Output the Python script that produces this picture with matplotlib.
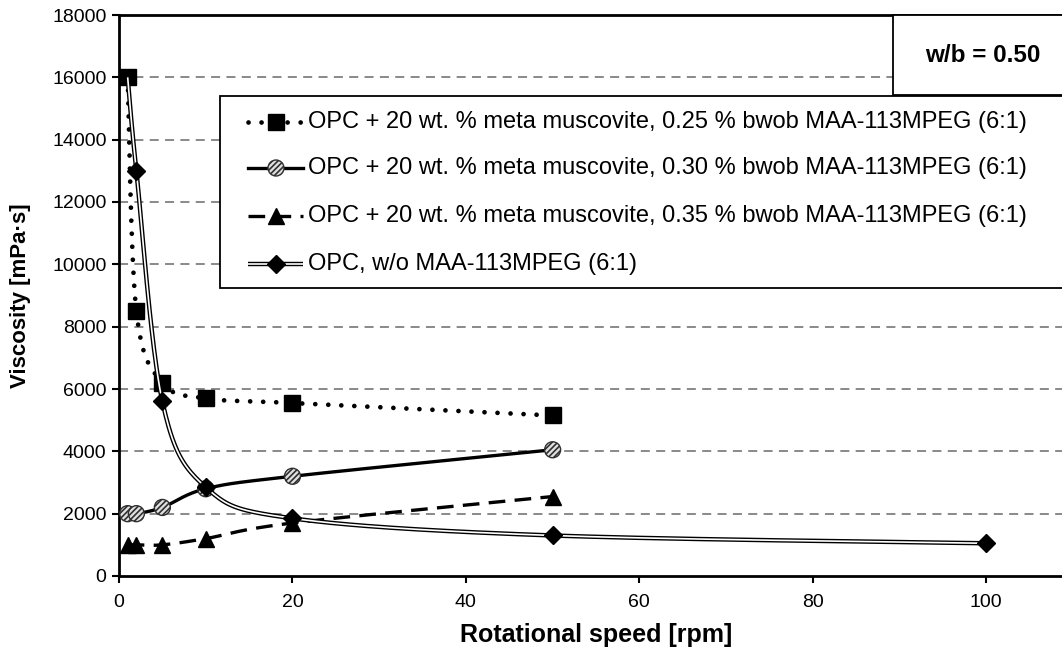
import numpy as np
import matplotlib
matplotlib.use("Agg")
import matplotlib.pyplot as plt
from matplotlib.lines import Line2D
from matplotlib.patches import Rectangle

plt.rcParams['font.family'] = ['Liberation Sans', 'DejaVu Sans']
plt.rcParams['hatch.linewidth'] = 1.2

# ---- data ----
x_a = [1, 2, 5, 10, 20, 50]
y_025 = [16000, 8500, 6200, 5700, 5550, 5150]
y_030 = [2000, 2000, 2200, 2800, 3200, 4050]
y_035 = [1000, 1000, 1000, 1200, 1700, 2550]
x_opc = [1, 2, 5, 10, 20, 50, 100]
y_opc = [16000, 13000, 5600, 2850, 1850, 1300, 1050]

labels = [
    "OPC + 20 wt. % meta muscovite, 0.25 % bwob MAA-113MPEG (6:1)",
    "OPC + 20 wt. % meta muscovite, 0.30 % bwob MAA-113MPEG (6:1)",
    "OPC + 20 wt. % meta muscovite, 0.35 % bwob MAA-113MPEG (6:1)",
    "OPC, w/o MAA-113MPEG (6:1)",
]
x_ticks = [0, 20, 40, 60, 80, 100]
y_ticks = list(range(0, 18001, 2000))
XMAX, YMAX = 110, 18000

# ---- styles ----
DOT = dict(color='black', lw=3.4, linestyle=(0, (0.01, 2.75)), dash_capstyle='round')
SOLID = dict(color='black', lw=2.4)
DASH = dict(color='black', lw=2.4, dashes=(5, 2.8))
OUTER = dict(color='black', lw=3.2, solid_capstyle='butt')
INNER = dict(color='white', lw=1.2, solid_capstyle='butt')
SQ = dict(ls='none', marker='s', ms=11, color='black')
TRI = dict(ls='none', marker='^', ms=11, color='black')
DIA = dict(ls='none', marker='D', ms=9.5, color='black')
CIRC = dict(s=11.5 ** 2, marker='o', facecolor='#e0e0e0', edgecolor='#303030',
            hatch='//////', linewidths=1.0)

W, H = 1062, 652
fig = plt.figure(figsize=(W / 100, H / 100), dpi=100)
ax_left, ax_right = 119, 1073
ax_top, ax_bot = 15, 576
ax = fig.add_axes([ax_left / W, 1 - ax_bot / H, (ax_right - ax_left) / W, (ax_bot - ax_top) / H])
ax.set_xlim(0, XMAX)
ax.set_ylim(0, YMAX)


def smooth(xs, ys, n=40):
    """Excel-style (uniform Catmull-Rom) smoothing in display space."""
    sx = (ax_right - ax_left) / XMAX
    sy = (ax_bot - ax_top) / YMAX
    P = np.column_stack([np.asarray(xs, float) * sx, np.asarray(ys, float) * sy])
    out = []
    for i in range(len(P) - 1):
        p0 = P[i - 1] if i > 0 else P[i]
        p1, p2 = P[i], P[i + 1]
        p3 = P[i + 2] if i + 2 < len(P) else P[i + 1]
        c1 = p1 + (p2 - p0) / 6
        c2 = p2 - (p3 - p1) / 6
        t = np.linspace(0, 1, n)[:, None]
        seg = ((1 - t) ** 3) * p1 + 3 * ((1 - t) ** 2) * t * c1 + 3 * (1 - t) * t ** 2 * c2 + t ** 3 * p2
        out.append(seg if i == 0 else seg[1:])
    Q = np.vstack(out)
    return Q[:, 0] / sx, Q[:, 1] / sy


# grid
for yv in y_ticks[1:-1]:
    ax.axhline(yv, color='#808080', lw=1.3, dashes=(5, 3.5), zorder=0)

# series 0.25 (dotted, squares)
sx_, sy_ = smooth(x_a, y_025)
ax.plot(sx_, sy_, zorder=2, **DOT)
ax.plot(x_a, y_025, zorder=3, **SQ)

# series 0.30 (solid, hatched circles)
sx_, sy_ = smooth(x_a, y_030)
ax.plot(sx_, sy_, zorder=2, **SOLID)
ax.scatter(x_a, y_030, zorder=3, **CIRC)

# series 0.35 (dashed, triangles)
sx_, sy_ = smooth(x_a, y_035)
ax.plot(sx_, sy_, zorder=2, **DASH)
ax.plot(x_a, y_035, zorder=3, **TRI)

# series OPC (double line, diamonds)
sx_, sy_ = smooth(x_opc, y_opc)
ax.plot(sx_, sy_, zorder=4, **OUTER)
ax.plot(sx_, sy_, zorder=4, **INNER)
ax.plot(x_opc[1:], y_opc[1:], zorder=5, **DIA)

# axes styling
ax.set_xticks(x_ticks)
ax.set_yticks(y_ticks)
ax.tick_params(axis='both', direction='out', length=5, width=1.5, labelsize=14, color='black')
ax.tick_params(axis='y', pad=4)
ax.tick_params(axis='x', pad=8)
for side in ['left', 'bottom', 'top', 'right']:
    ax.spines[side].set_linewidth(2)
ax.set_xlabel('Rotational speed [rpm]', fontsize=18, fontweight='bold')
ax.set_ylabel('Viscosity [mPa·s]', fontsize=16, fontweight='bold')
ax.xaxis.set_label_coords(0.5, (ax_bot - 635) / (ax_bot - ax_top))
ax.yaxis.set_label_coords((21 - ax_left) / (ax_right - ax_left), 0.5)
ax.xaxis.label.set_va('center')
ax.yaxis.label.set_va('center')

# overlay in pixel coordinates for legend + w/b box
ov = fig.add_axes([0, 0, 1, 1], facecolor='none')
ov.set_xlim(0, W)
ov.set_ylim(H, 0)
ov.axis('off')

# w/b box
ov.add_patch(Rectangle((893, 15), 300, 80, facecolor='white', edgecolor='black', lw=1.3, zorder=1))
ov.text(983, 56, 'w/b = 0.50', fontsize=17.5, fontweight='bold', ha='center', va='center', zorder=2)

# legend box
ov.add_patch(Rectangle((220, 96), 1000, 192, facecolor='white', edgecolor='black', lw=1.3, zorder=1))
rows = [122, 168, 216, 264]
hx0, hx1, mx, tx = 248, 303, 276, 308
ov.add_line(Line2D([hx0, hx1], [rows[0]] * 2, zorder=2, **DOT))
ov.add_line(Line2D([mx], [rows[0]], zorder=3, **SQ))
ov.add_line(Line2D([hx0, hx1], [rows[1]] * 2, zorder=2, **SOLID))
ov.scatter([mx], [rows[1]], zorder=3, **CIRC)
ov.add_line(Line2D([hx0, hx1], [rows[2]] * 2, zorder=2, **DASH))
ov.add_line(Line2D([mx], [rows[2]], zorder=3, **TRI))
ov.add_line(Line2D([hx0, hx1], [rows[3]] * 2, zorder=2, **OUTER))
ov.add_line(Line2D([hx0, hx1], [rows[3]] * 2, zorder=2, **INNER))
ov.add_line(Line2D([mx], [rows[3]], zorder=3, **DIA))
for r, lab in zip(rows, labels):
    ov.text(tx, r, lab, fontsize=17, ha='left', va='center', zorder=3)

fig.savefig('out.png', dpi=100)
